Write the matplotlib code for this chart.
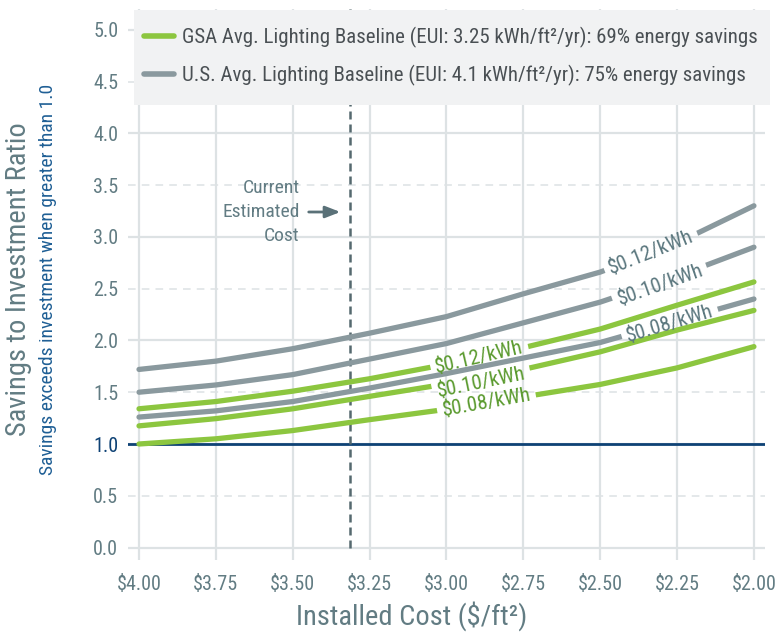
import numpy as np
import matplotlib
matplotlib.use("Agg")
import matplotlib.pyplot as plt
from matplotlib import font_manager, transforms
from matplotlib.path import Path
from matplotlib.lines import Line2D
from matplotlib.patches import Rectangle

# ---------------- data ----------------
costs = [4.00, 3.75, 3.50, 3.25, 3.00, 2.75, 2.50, 2.25, 2.00]
x_tick_labels = ["$4.00", "$3.75", "$3.50", "$3.25", "$3.00", "$2.75", "$2.50", "$2.25", "$2.00"]
y_ticks = [0.0, 0.5, 1.0, 1.5, 2.0, 2.5, 3.0, 3.5, 4.0, 4.5, 5.0]

us_012 = [1.72, 1.80, 1.92, 2.07, 2.23, 2.45, 2.66, 2.94, 3.30]
us_010 = [1.50, 1.57, 1.67, 1.82, 1.97, 2.17, 2.37, 2.62, 2.90]
us_008 = [1.26, 1.32, 1.41, 1.54, 1.68, 1.83, 1.98, 2.19, 2.40]
gsa_012 = [1.34, 1.41, 1.51, 1.63, 1.77, 1.93, 2.11, 2.34, 2.565]
gsa_010 = [1.175, 1.245, 1.34, 1.46, 1.58, 1.72, 1.89, 2.10, 2.29]
gsa_008 = [1.00, 1.05, 1.13, 1.235, 1.335, 1.455, 1.575, 1.735, 1.94]

rate_labels = ["$0.12/kWh", "$0.10/kWh", "$0.08/kWh"]
us_label_x = [2.334, 2.305, 2.273]
gsa_label_x = [2.893, 2.886, 2.870]

current_cost = 3.315
breakeven = 1.0

legend_labels = [
    "GSA Avg. Lighting Baseline (EUI: 3.25 kWh/ft\u00b2/yr): 69% energy savings",
    "U.S. Avg. Lighting Baseline (EUI: 4.1 kWh/ft\u00b2/yr): 75% energy savings",
]

# ---------------- style ----------------
names = {f.name for f in font_manager.fontManager.ttflist}
FAM = next((n for n in ["Liberation Sans Narrow", "Roboto Condensed", "Roboto", "Liberation Sans"]
            if n in names), "DejaVu Sans")
plt.rcParams["font.family"] = [FAM, "DejaVu Sans"]

GREEN = "#8cc63f"
GREEN_TXT = "#5a9a2e"
GRAY = "#8a999e"
GRAY_TXT = "#5b777e"
SLATE = "#627c83"
NAVY = "#0e4275"
BLUE = "#1f5f95"
GRID = "#dde2e4"

fig = plt.figure(figsize=(7.75, 6.35), dpi=100)
W, H = 775.0, 635.0
ax = fig.add_axes([128 / W, 75 / H, 637 / W, 551 / H])
ax.set_xlim(4.0358, 1.964)
ax.set_ylim(-0.12, 5.2)
for s in ax.spines.values():
    s.set_visible(False)

# grid
ax.set_xticks(costs)
ax.set_xticklabels(x_tick_labels)
for c in costs:
    ax.axvline(c, color=GRID, lw=1.6, zorder=0.5)
for yv in y_ticks:
    if abs(yv - round(yv)) < 1e-9:
        ax.axhline(yv, color=GRID, lw=1.6, zorder=0.5)
    else:
        ax.axhline(yv, color=GRID, lw=1.1, ls=(0, (5, 4)), zorder=0.5)
ax.set_yticks(y_ticks)
ax.set_yticklabels([f"{v:.1f}" for v in y_ticks])
ax.tick_params(axis="both", length=0, labelsize=14.5, colors=SLATE)
ax.tick_params(axis="x", pad=11)
ax.tick_params(axis="y", pad=7)
for lab in ax.get_yticklabels():
    if lab.get_text() == "1.0":
        lab.set_color(NAVY)

ax.axhline(breakeven, color=NAVY, lw=2.0, zorder=1)
ax.vlines(current_cost, 0, 5.2, color="#55696f", lw=1.8, linestyles=(0, (3.2, 2.0)), zorder=1.2)

# curves
series = [
    (gsa_008, GREEN, GREEN_TXT, rate_labels[2], gsa_label_x[2], 0.0),
    (gsa_010, GREEN, GREEN_TXT, rate_labels[1], gsa_label_x[1], -0.05),
    (gsa_012, GREEN, GREEN_TXT, rate_labels[0], gsa_label_x[0], 0.0),
    (us_008, GRAY, GRAY_TXT, rate_labels[2], us_label_x[2], -0.01),
    (us_010, GRAY, GRAY_TXT, rate_labels[1], us_label_x[1], -0.03),
    (us_012, GRAY, GRAY_TXT, rate_labels[0], us_label_x[0], 0.0),
]
lines = []
for vals, col, tcol, lab, lx, dy in series:
    ln, = ax.plot(costs, vals, color=col, lw=3.8, solid_capstyle="round",
                  solid_joinstyle="round", zorder=2)
    lines.append(ln)

LFS = 15
fig.canvas.draw()
renderer = fig.canvas.get_renderer()
xr = np.array(costs[::-1])
for ln, (vals, col, tcol, lab, lx, dy) in zip(lines, series):
    vr = np.array(vals[::-1])
    ly = float(np.interp(lx, xr, vr)) + dy
    p1 = ax.transData.transform((lx + 0.05, np.interp(lx + 0.05, xr, vr)))
    p2 = ax.transData.transform((lx - 0.05, np.interp(lx - 0.05, xr, vr)))
    ang = np.degrees(np.arctan2(p2[1] - p1[1], p2[0] - p1[0])) + 1.0
    ax.text(lx, ly, lab, fontsize=LFS, color=tcol, rotation=ang,
            rotation_mode="anchor", ha="center", va="center", zorder=4)
    t0 = ax.text(0, 0, lab, fontsize=LFS)
    bb = t0.get_window_extent(renderer)
    t0.remove()
    hw, hh = bb.width / 2 + 5, bb.height / 2
    cx, cy = ax.transData.transform((lx, ly))
    a = np.radians(ang)
    R = np.array([[np.cos(a), -np.sin(a)], [np.sin(a), np.cos(a)]])
    inner = [R @ np.array(p) + np.array([cx, cy]) for p in [(-hw, -hh), (-hw, hh), (hw, hh), (hw, -hh)]]
    outer = [(-1000, -1000), (3000, -1000), (3000, 3000), (-1000, 3000)]
    verts = outer + [outer[0]] + [tuple(p) for p in inner] + [tuple(inner[0])]
    codes = [Path.MOVETO] + [Path.LINETO] * 3 + [Path.CLOSEPOLY] + [Path.MOVETO] + [Path.LINETO] * 3 + [Path.CLOSEPOLY]
    ln.set_clip_path(Path(verts, codes), transforms.IdentityTransform())

# current cost annotation
ax.text(3.478, 3.24, "Current\nEstimated\nCost", ha="right", va="center", fontsize=14,
        color=SLATE, multialignment="right", linespacing=1.4, zorder=3)
ax.annotate("", xy=(3.336, 3.24), xytext=(3.457, 3.24),
            arrowprops=dict(arrowstyle="-|>,head_length=0.9,head_width=0.35", color="#5a7178", lw=2.0),
            zorder=3)

# legend box
rect = Rectangle((134 / W, (635 - 105) / H), 636 / W, 95 / H, transform=fig.transFigure,
                 facecolor="#f1f2f3", edgecolor="none", zorder=10)
fig.add_artist(rect)
handles = [Line2D([], [], color=GREEN, lw=4, solid_capstyle="round"),
           Line2D([], [], color=GRAY, lw=4, solid_capstyle="round")]
leg = fig.legend(handles, legend_labels, loc="upper left", bbox_to_anchor=(144 / W, (635 - 27) / H),
                 frameon=False, fontsize=15, handlelength=1.45, handletextpad=0.35,
                 labelspacing=0.82, borderpad=0, borderaxespad=0)
for t in leg.get_texts():
    t.set_color("#4a5054")
leg.set_zorder(11)

# axis labels
fig.text(19 / W, 1 - 279 / H, "Savings to Investment Ratio", rotation=90, ha="center", va="center",
         fontsize=20.5, color=SLATE)
fig.text(48 / W, 1 - 279 / H, "Savings exceeds investment when greater than 1.0", rotation=90,
         ha="center", va="center", fontsize=14, color=BLUE)
fig.text(412 / W, 1 - 616 / H, "Installed Cost ($/ft\u00b2)", ha="center", va="center",
         fontsize=20.5, color=SLATE)

fig.savefig("out.png", dpi=100)
